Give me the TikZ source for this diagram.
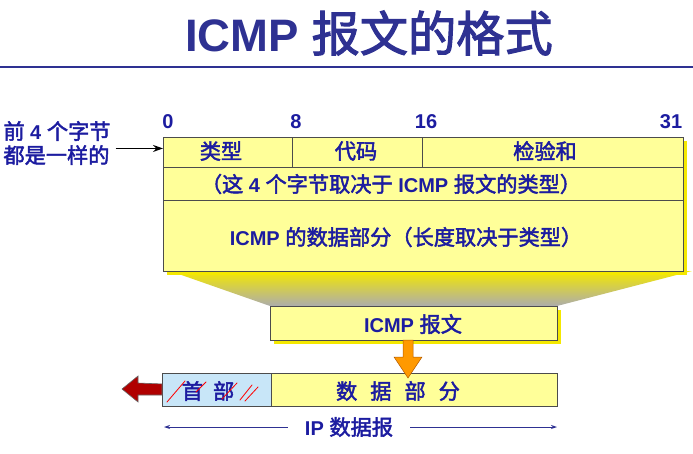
\documentclass[tikz,border=0pt]{standalone}
\usepackage{fontspec}
\setmainfont{Liberation Sans}
\newfontfamily\cjk{Noto Sans CJK SC}[Scale=1.06, AutoFakeBold=2.2]
\usetikzlibrary{arrows.meta}
\definecolor{tb}{HTML}{1C1CA0}
\definecolor{navy}{HTML}{2E3192}
\definecolor{yel}{HTML}{FFFF99}
\definecolor{hdr}{HTML}{C8E6F8}
\definecolor{org}{HTML}{FF9900}
\definecolor{dred}{HTML}{B00000}
\definecolor{shad}{HTML}{F4E800}
\newcommand\zh[1]{{\cjk #1}}
\newcommand\myfs{\fontsize{20}{24}\selectfont}
\begin{document}
\begin{tikzpicture}[x=1pt,y=-1pt,
  txt/.style={font=\bfseries\myfs, text=tb, inner sep=0},
  cell/.style={draw=black!70, line width=0.9pt, fill=yel, anchor=north west, inner sep=0},
  pen/.style={red, line width=0.8pt, line cap=round}]
\useasboundingbox (0,0) rectangle (693,453);
% title
\node[font=\bfseries\fontsize{45.5}{50}\selectfont, text=navy, inner sep=0] (title) at (369,33) {ICMP \zh{报文的格式}};
\draw[navy, line width=2.5pt] (0,67) -- (693,67);
% funnel and shadows
\shade[top color=shad, bottom color=gray!65] (170,271) -- (692,271) -- (557,306) -- (270,306) -- cycle;
\fill[shad] (167,141) rectangle (687,275);
\fill[shad] (274,310) rectangle (561,344);
% ICMP header cells
\node[cell, minimum width=129, minimum height=30] (type) at (163,137) {};
\node[cell, minimum width=130, minimum height=30] (code) at (292,137) {};
\node[cell, minimum width=261, minimum height=30] (csum) at (422,137) {};
\node[cell, minimum width=520, minimum height=33] (rest) at (163,167) {};
\node[cell, minimum width=520, minimum height=71] (body) at (163,200) {};
\node[txt] (ttype) at (221,151) {\zh{类型}};
\node[txt] (tcode) at (356,151) {\zh{代码}};
\node[txt] (tcsum) at (545,151) {\zh{检验和}};
\node[txt] (trest) at (391,184) {\zh{（这} 4 \zh{个字节取决于} ICMP \zh{报文的类型）}};
\node[txt] (tbody) at (406,237) {ICMP \zh{的数据部分（长度取决于类型）}};
% bit labels
\node[txt] (b0) at (168,122) {0};
\node[txt] (b8) at (296,122) {8};
\node[txt] (b16) at (426,122) {16};
\node[txt] (b31) at (671,122) {31};
% note
\node[txt, align=left] (note) at (57,143) {\zh{前} 4 \zh{个字节}\\\zh{都是一样的}};
\coordinate (nt) at ([yshift=4pt]type.west);
\draw[line width=1.4pt, -{Stealth[length=10pt,width=7pt]}] (note.east |- nt) ++(5,0) -- (nt);
% ICMP message box
\node[cell, minimum width=287, minimum height=34] (icmp) at (270,306) {};
\node[txt] (ticmp) at (413,324) {ICMP \zh{报文}};
% IP datagram
\node[cell, fill=hdr, minimum width=109, minimum height=33] (hdr) at (162,373) {};
\node[cell, minimum width=286, minimum height=33] (data) at (271,373) {};
% orange arrow
\filldraw[fill=org, draw=orange!70!black, line width=0.5pt] (403,340) -- (413,340) -- (413,357) -- (422,357) -- (408,378) -- (394,357) -- (403,357) -- cycle;
\node[txt] (thdr) at (208,391) {\zh{首}\hspace{0.5em}\zh{部}};
\node[txt] (tdata) at (398,391) {\zh{数}\hspace{0.65em}\zh{据}\hspace{0.65em}\zh{部}\hspace{0.65em}\zh{分}};
% red arrow
\filldraw[fill=dred, draw=black!60, line width=0.6pt] (hdr.west) ++(0,-6) -- (138,383) -- (138,376) -- (122,389) -- (138,402) -- (138,395) -- (162,395) -- cycle;
% red pen strokes
\draw[pen] (167,402) -- (185,381);
\draw[pen] (196,392) -- (206,382);
\draw[pen] (222,399) -- (237,383);
\draw[pen] (240,400) -- (252,385);
\draw[pen] (245,401) -- (258,387);
% IP datagram span
\node[txt, inner xsep=17pt, inner ysep=2pt] (ip) at (349,427) {IP \zh{数据报}};
\coordinate (ipL) at (164,427);
\coordinate (ipR) at (557,427);
\draw[navy, line width=0.9pt, {Stealth[length=6pt,width=4pt]}-] (ipL) -- (ip.west);
\draw[navy, line width=0.9pt, -{Stealth[length=6pt,width=4pt]}] (ip.east) -- (ipR);
\end{tikzpicture}
\end{document}
